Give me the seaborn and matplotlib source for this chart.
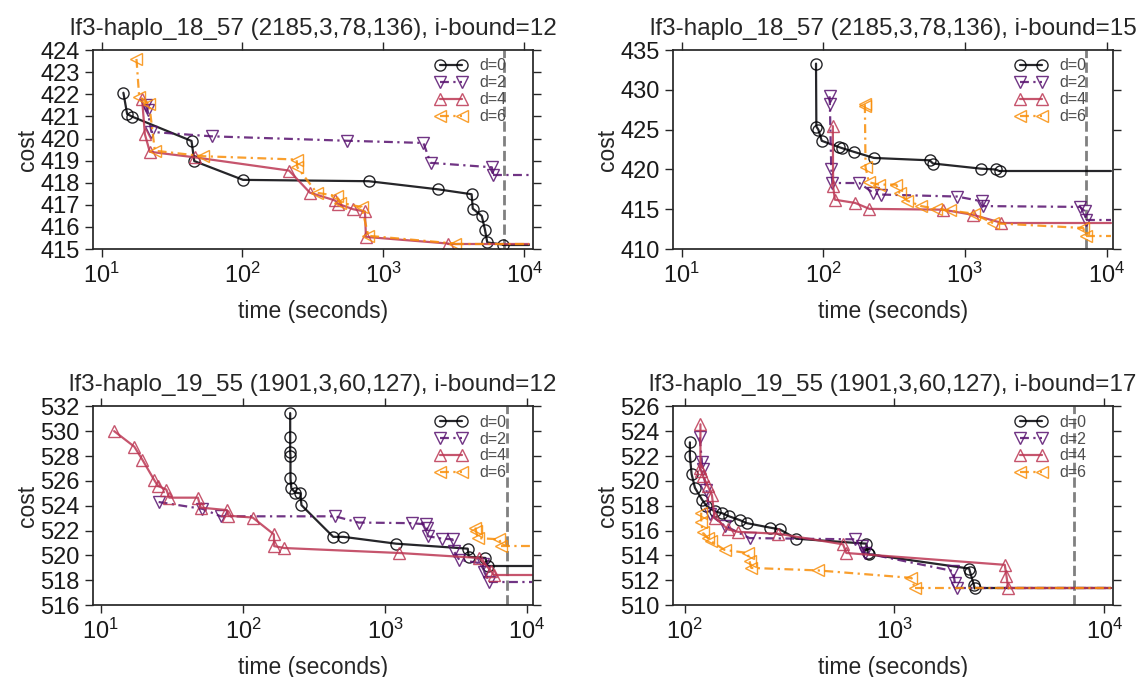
import seaborn as sns
import matplotlib.pyplot as plt
from matplotlib.ticker import MultipleLocator, NullLocator

# -----------------------------
# 1. Data
# -----------------------------
labels = ["d=0", "d=2", "d=4", "d=6"]
titles = [
    "lf3-haplo_18_57 (2185,3,78,136), i-bound=12",
    "lf3-haplo_18_57 (2185,3,78,136), i-bound=15",
    "lf3-haplo_19_55 (1901,3,60,127), i-bound=12",
    "lf3-haplo_19_55 (1901,3,60,127), i-bound=17",
]
time_limit = 10800
deadline = 7200

# top-left
a_t0 = [14.3, 15.2, 16.5, 43.5, 45.5, 101, 785, 2450, 4220, 4300, 4980, 5250, 5450, 7100]
a_c0 = [422.07, 421.11, 420.99, 419.89, 418.98, 418.13, 418.07, 417.70, 417.48, 416.83, 416.50, 415.87, 415.30, 415.2]
a_t2 = [20.6, 21.2, 22.6, 60.4, 548, 1920, 2160, 5870, 6030]
a_c2 = [421.5, 421.3, 420.3, 420.1, 419.9, 419.8, 418.9, 418.7, 418.33]
a_t4 = [19.4, 20.3, 22.0, 45.9, 214, 301, 453, 475, 611, 739, 751, 2880]
a_c4 = [421.8, 420.2, 419.4, 419.15, 418.55, 417.55, 417.2, 417.05, 416.8, 416.7, 415.55, 415.25]
a_t6 = [17.7, 18.5, 21.8, 23.9, 52.7, 242, 245, 336, 465, 492, 700, 782, 3220]
a_c6 = [423.6, 421.9, 421.55, 419.45, 419.2, 419.05, 418.7, 417.55, 417.4, 417.1, 416.9, 415.6, 415.25]

# top-right
b_t0 = [89, 89.5, 92.5, 97.7, 130, 135, 166, 228, 564, 596, 1306, 1651, 1763]
b_c0 = [433.3, 425.4, 425.0, 423.6, 422.8, 422.7, 422.2, 421.45, 421.15, 420.75, 420.1, 420.0, 419.78]
b_t2 = [111, 111.5, 114, 116, 180, 226, 257, 880, 1327, 1340, 6490, 7030, 7150]
b_c2 = [429.2, 428.2, 420.1, 418.3, 418.3, 417.05, 416.85, 416.6, 416.0, 415.4, 415.3, 414.75, 413.7]
b_t4 = [117, 117.5, 121, 168, 212, 700, 1143, 1811]
b_c4 = [425.45, 417.9, 416.2, 415.8, 415.05, 414.95, 414.3, 413.3]
b_t6 = [196, 197, 199, 210, 247, 328, 346, 390, 492, 628, 781, 1153, 1582, 6840, 7140]
b_c6 = [428.2, 428.0, 420.3, 418.4, 418.1, 418.1, 417.05, 416.1, 415.4, 415.05, 414.85, 414.45, 413.25, 412.65, 411.65]

# bottom-left
c_t0 = [215, 215, 215, 216, 216, 219, 234, 254, 258, 432, 509, 1197, 3820, 3880, 5090, 5280]
c_c0 = [531.45, 529.5, 528.3, 528.0, 526.2, 525.4, 525.05, 525.0, 524.05, 521.5, 521.5, 520.95, 520.55, 519.9, 519.8, 519.13]
c_t2 = [25.5, 51.8, 69.8, 445, 651, 1552, 1930, 1975, 2000, 2536, 2985, 3050, 3330, 4870, 5010, 5430]
c_c2 = [524.3, 523.75, 523.15, 523.15, 522.65, 522.6, 522.5, 522.25, 521.55, 521.35, 521.3, 520.35, 519.65, 519.35, 518.65, 517.85]
c_t4 = [12.4, 17.2, 19.6, 23.8, 25.2, 28.9, 30.3, 48.2, 50.4, 77.1, 79.1, 117, 165, 166, 196, 1264, 4614, 5580, 5800]
c_c4 = [530.0, 528.75, 527.7, 526.05, 525.6, 525.3, 524.65, 524.65, 523.85, 523.65, 523.2, 523.05, 521.7, 520.75, 520.6, 520.2, 519.8, 518.75, 518.45]
c_t6 = [4325, 4375, 4490, 6390, 6580]
c_c6 = [522.25, 521.95, 521.4, 521.3, 520.8]

# bottom-right
d_t0 = [106, 106, 108, 112, 121, 127, 139, 151, 163, 183, 198, 254, 284, 341, 735, 748, 755, 2270, 2290, 2390, 2410]
d_c0 = [523.1, 522.0, 520.55, 519.45, 518.5, 518.0, 517.55, 517.4, 517.15, 516.85, 516.6, 516.25, 516.1, 515.35, 514.95, 514.2, 514.1, 512.95, 512.7, 511.65, 511.35]
d_t2 = [118, 121, 122, 127, 132, 155, 204, 647, 697, 722, 1905, 1940, 1977]
d_c2 = [523.5, 521.5, 520.95, 519.3, 517.3, 516.4, 515.4, 515.3, 514.75, 514.2, 512.75, 511.8, 511.35]
d_t4 = [119, 119, 120, 122, 129, 135, 139, 161, 180, 279, 569, 590, 3356, 3420, 3484]
d_c4 = [524.55, 521.0, 520.8, 520.4, 519.6, 518.85, 517.05, 516.1, 515.9, 515.75, 514.9, 514.2, 513.25, 512.35, 511.35]
d_t6 = [120, 120, 122, 129, 134, 155, 200, 204, 208, 432, 1205, 1251]
d_c6 = [517.45, 516.7, 515.85, 515.4, 515.15, 514.45, 514.2, 513.55, 513.0, 512.8, 512.2, 511.35]

panels = [
    [(a_t0, a_c0), (a_t2, a_c2), (a_t4, a_c4), (a_t6, a_c6)],
    [(b_t0, b_c0), (b_t2, b_c2), (b_t4, b_c4), (b_t6, b_c6)],
    [(c_t0, c_c0), (c_t2, c_c2), (c_t4, c_c4), (c_t6, c_c6)],
    [(d_t0, d_c0), (d_t2, d_c2), (d_t4, d_c4), (d_t6, d_c6)],
]
ylims = [(415, 424), (410, 435), (516, 532), (510, 526)]
ysteps = [1, 5, 2, 2]
xlims = [(8.7, 11500), (8.7, 11100), (8.8, 11000), (88, 11000)]

# -----------------------------
# 2. Theme and styles
# -----------------------------
sns.set_theme(style="ticks")
plt.rcParams['font.family'] = ['Liberation Sans', 'DejaVu Sans']
plt.rcParams['xtick.top'] = True
plt.rcParams['ytick.right'] = True

colors = [plt.cm.inferno(v) for v in (0.0, 0.25, 0.5, 0.75)]
markers = ["o", "v", "^", "<"]
dashdot = (0, (4, 2, 1, 2))
linestyles = ["-", dashdot, "-", dashdot]

# -----------------------------
# 3. Plot
# -----------------------------
fig, axes = plt.subplots(2, 2, figsize=(11.38, 6.77), dpi=100)
fig.subplots_adjust(left=0.0817, right=0.978, bottom=0.106, top=0.926,
                    wspace=0.318, hspace=0.79)

for ax, series, title, ylim, ystep, xlim in zip(axes.flat, panels, titles, ylims, ysteps, xlims):
    ax.axvline(deadline, color="0.5", linestyle="--", linewidth=2, zorder=1)
    for (t, c), lab, col, m, ls in zip(series, labels, colors, markers, linestyles):
        sns.lineplot(x=t, y=c, ax=ax, sort=False, estimator=None, legend=False,
                     color=col, marker=m, linestyle=ls, linewidth=1.6,
                     markersize=8, markerfacecolor="none", markeredgecolor=col,
                     markeredgewidth=1.0, alpha=0.85, label=lab)
        # keep the last value until the time limit
        ax.plot([t[-1], time_limit], [c[-1], c[-1]], color=col, linestyle=ls,
                linewidth=1.6, alpha=0.85)

    ax.set_xscale("log")
    ax.set_xlim(xlim)
    ax.set_ylim(ylim)
    ax.yaxis.set_major_locator(MultipleLocator(ystep))
    ax.xaxis.set_minor_locator(NullLocator())
    ax.tick_params(axis="both", which="major", direction="out", length=6,
                   width=1, labelsize=17, top=True, right=True,
                   labelcolor="0.1")
    ax.set_title(title, fontsize=17.5, pad=11)
    ax.set_xlabel("time (seconds)", fontsize=16.5, labelpad=9)
    ax.set_ylabel("cost", fontsize=16.5, labelpad=1)
    ax.legend(loc="upper right", bbox_to_anchor=(0.955, 0.99), borderaxespad=0,
              frameon=False, fontsize=11.5, numpoints=2, labelspacing=0.12,
              handlelength=2.0, handletextpad=0.8, labelcolor="0.3")

plt.savefig("out.png", dpi=100, facecolor="white")
plt.close()
